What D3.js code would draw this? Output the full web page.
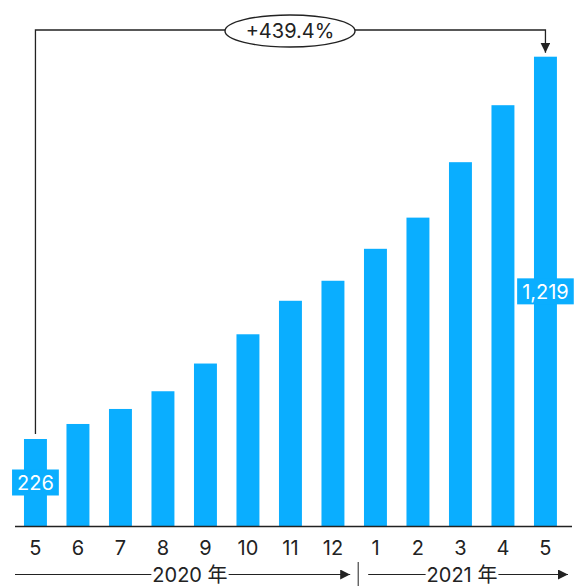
<!DOCTYPE html>
<html>
<head>
<meta charset="utf-8">
<script src="https://cdn.jsdelivr.net/npm/d3@7/dist/d3.min.js"></script>
<style>
  html, body { margin: 0; padding: 0; background: #fff; }
  svg { display: block; font-family: Inter, "Noto Sans", "Noto Sans CJK SC", sans-serif; }
</style>
</head>
<body>
<svg id="chart" width="574" height="586"></svg>
<script>
// Monthly values, May 2020 – May 2021
const months = ["5", "6", "7", "8", "9", "10", "11", "12", "1", "2", "3", "4", "5"];
const values = [226, 265, 304, 350, 422, 498, 585, 637, 720, 801, 945, 1093, 1219];
const years = [
  { label: "2020 年", from: 0, to: 7 },
  { label: "2021 年", from: 8, to: 12 }
];

const W = 574, H = 586;
const baseY = 526;
const ink = "#222";
const barColor = "#0aaeff";
const font = "Inter, \"Noto Sans\", \"Noto Sans CJK SC\", sans-serif";

const svg = d3.select("#chart");

const idx = d3.range(months.length);
const x = d3.scaleBand()
  .domain(idx)
  .range([14.2, 566.7])
  .paddingInner(0.46)
  .paddingOuter(0.23);

const y = d3.scaleLinear()
  .domain([0, 1219])
  .range([baseY, 56.7]);

const cx = i => x(i) + x.bandwidth() / 2;

// arrowhead marker
const defs = svg.append("defs");
defs.append("marker")
  .attr("id", "arrow")
  .attr("viewBox", "0 0 10 10")
  .attr("refX", 10).attr("refY", 5)
  .attr("markerWidth", 10).attr("markerHeight", 10)
  .attr("markerUnits", "userSpaceOnUse")
  .attr("orient", "auto")
  .append("path")
  .attr("d", "M0,0 L10,5 L0,10 Z")
  .attr("fill", ink);

// bars
svg.append("g").selectAll("rect")
  .data(values)
  .join("rect")
  .attr("x", (d, i) => x(i))
  .attr("width", x.bandwidth())
  .attr("y", d => y(d))
  .attr("height", d => baseY - y(d))
  .attr("fill", barColor);

// baseline
svg.append("line")
  .attr("x1", 15).attr("x2", 572)
  .attr("y1", baseY + 0.5).attr("y2", baseY + 0.5)
  .attr("stroke", ink).attr("stroke-width", 1.6);

// month labels
const axis = d3.axisBottom(x)
  .tickFormat(i => months[i])
  .tickSize(0)
  .tickPadding(0);
const gAxis = svg.append("g")
  .attr("transform", `translate(0,${baseY})`)
  .call(axis);
gAxis.select(".domain").remove();
gAxis.selectAll("text")
  .attr("y", 22)
  .attr("dy", "0.35em")
  .attr("fill", ink)
  .style("font-size", "20px")
  .style("font-family", font);

// year brackets along the bottom
const yearY = 574.5;
const sepX = (cx(7) + cx(8)) / 2 + 4;
svg.append("line")
  .attr("x1", sepX).attr("x2", sepX)
  .attr("y1", 562).attr("y2", 586)
  .attr("stroke", ink).attr("stroke-width", 1);

const spans = [
  { x0: 15, x1: sepX - 8, tx: 190 },
  { x0: sepX + 10, x1: 568, tx: 462 }
];
years.forEach((yr, k) => {
  const s = spans[k];
  const t = svg.append("text")
    .attr("x", s.tx)
    .attr("y", yearY)
    .attr("dy", "0.35em")
    .attr("text-anchor", "middle")
    .attr("fill", ink)
    .style("font-size", "20px")
    .text(yr.label);
  const bb = t.node().getBBox();
  svg.append("line")
    .attr("x1", s.x0).attr("x2", bb.x - 1)
    .attr("y1", yearY).attr("y2", yearY)
    .attr("stroke", ink).attr("stroke-width", 1);
  svg.append("line")
    .attr("x1", bb.x + bb.width + 1).attr("x2", s.x1)
    .attr("y1", yearY).attr("y2", yearY)
    .attr("stroke", ink).attr("stroke-width", 1)
    .attr("marker-end", "url(#arrow)");
});

// value labels at the first and last bars
function valueLabel(i) {
  const v = values[i];
  const midY = (y(v) + baseY) / 2;
  const g = svg.append("g");
  const t = g.append("text")
    .attr("x", cx(i))
    .attr("y", midY)
    .attr("dy", "0.36em")
    .attr("text-anchor", "middle")
    .attr("fill", "#fff")
    .style("font-size", "20px")
    .text(d3.format(",")(v));
  const bb = t.node().getBBox();
  g.insert("rect", "text")
    .attr("x", bb.x - 5)
    .attr("width", bb.width + 10)
    .attr("y", midY - 13)
    .attr("height", 26)
    .attr("fill", barColor);
}
valueLabel(0);
valueLabel(values.length - 1);

// growth bracket from first to last bar
const first = values[0], last = values[values.length - 1];
const growth = (last - first) / first;
const topY = 30;
const xa = cx(0), xb = cx(values.length - 1);
svg.append("path")
  .attr("d", `M${xa},${y(first) - 5} V${topY} H${xb} V${y(last) - 4}`)
  .attr("fill", "none")
  .attr("stroke", ink)
  .attr("stroke-width", 1.3)
  .attr("marker-end", "url(#arrow)");

const ex = 290;
svg.append("ellipse")
  .attr("cx", ex).attr("cy", topY + 1)
  .attr("rx", 65).attr("ry", 16)
  .attr("fill", "#fff")
  .attr("stroke", ink)
  .attr("stroke-width", 1.4);
svg.append("text")
  .attr("x", ex).attr("y", topY + 1)
  .attr("dy", "0.36em")
  .attr("text-anchor", "middle")
  .attr("fill", ink)
  .style("font-size", "20px")
  .text("+" + d3.format(".1f")(growth * 100) + "%");
</script>
</body>
</html>
